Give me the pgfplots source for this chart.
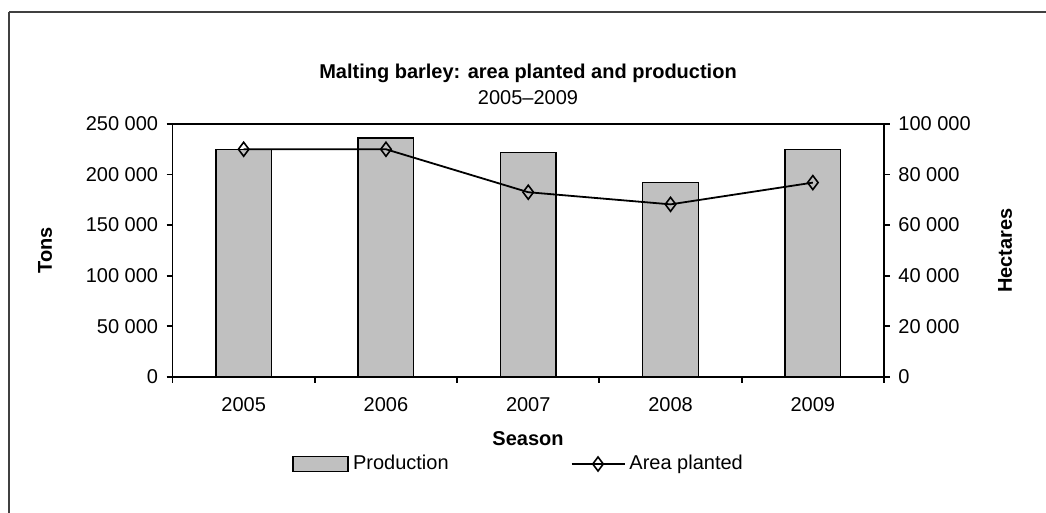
\documentclass[border=0pt]{standalone}
\usepackage{fontspec}
\setmainfont{Liberation Sans}
\usepackage{pgfplots}
\pgfplotsset{compat=1.18}
\definecolor{barg}{RGB}{192,192,192}
\pgfplotsset{
  barlegend/.style={legend image code/.code={\draw[fill=barg, draw=black, line width=0.8pt] (0pt,-3.75pt) rectangle (27.5pt,3.75pt);}},
  linelegend/.style={legend image code/.code={\draw[mark repeat=2,mark phase=2,##1] plot coordinates {(0pt,0pt) (13.25pt,0pt) (26.5pt,0pt)};}},
}
\begin{document}
\fontsize{10}{12}\selectfont
\begin{tikzpicture}[x=1pt,y=1pt]
% bounding box: 1046x513 px at 0.5pt/px
\useasboundingbox (0,0) rectangle (523,256.5);
% chart-area frame (top and left edges visible)
\draw[line width=1.2pt, black!75] (4.5,250.5) -- (523,250.5);
\draw[line width=1.2pt, black!75] (4.5,250.5) -- (4.5,0);
\begin{axis}[
  at={(86.25pt,68.15pt)}, anchor=south west,
  scale only axis, width=355.75pt, height=126.35pt,
  xmin=-0.5, xmax=4.5, ymin=0, ymax=250000,
  axis line style={line width=0.9pt},
  tick align=outside, tick pos=left,
  xtick={0,1,2,3,4},
  xticklabels={2005,2006,2007,2008,2009},
  major x tick style={draw=none},
  minor xtick={-0.5,0.5,1.5,2.5,3.5,4.5},
  minor x tick style={line width=0.9pt, black},
  minor tick length=3pt,
  major tick length=3pt,
  ytick={0,50000,100000,150000,200000,250000},
  yticklabels={0,50 000,100 000,150 000,200 000,250 000},
  y tick style={line width=0.9pt, black},
  xticklabel style={anchor=north, inner sep=0pt, yshift=-7pt},
  yticklabel style={anchor=east, inner sep=0pt, xshift=-4pt},
  scaled y ticks=false,
]
\addplot[ybar, bar width=27.8pt, fill=barg, draw=black, line width=0.7pt]
  coordinates {(0,225000) (1,236000) (2,222000) (3,192000) (4,225000)};
\end{axis}
\begin{axis}[
  at={(86.25pt,68.15pt)}, anchor=south west,
  scale only axis, width=355.75pt, height=126.35pt,
  xmin=-0.5, xmax=4.5, ymin=0, ymax=100000,
  axis x line=none, axis y line*=right,
  axis line style={line width=0.9pt},
  tick align=outside,
  ytick={0,20000,40000,60000,80000,100000},
  yticklabels={0,20 000,40 000,60 000,80 000,100 000},
  scaled y ticks=false,
  y tick style={line width=0.9pt, black},
  major tick length=3pt,
  yticklabel style={anchor=west, inner sep=0pt, xshift=4pt},
  legend columns=2,
  legend style={at={(0.168,-0.3455)}, anchor=west, draw=none, fill=none,
    inner sep=0pt, font=\fontsize{10}{12}\selectfont,
    /tikz/every even column/.append style={column sep=59pt}},
  legend cell align=left,
]
\addlegendimage{barlegend}
\addlegendentry{Production}
\addplot[black, line width=0.9pt, mark=diamond, mark size=3.5pt,
  mark options={fill=white, line width=0.8pt}, linelegend]
  coordinates {(0,90000) (1,90000) (2,73000) (3,68200) (4,76800)};
\addlegendentry{Area planted}
\end{axis}
% titles and axis labels
\node[font=\bfseries] at (264,220) {Malting barley: area planted and production};
\node at (264,207.5) {2005--2009};
\node[font=\bfseries] at (264,37) {Season};
\node[font=\bfseries, rotate=90] at (22.5,131.2) {Tons};
\node[font=\bfseries, rotate=90] at (502.5,131.2) {Hectares};
\end{tikzpicture}
\end{document}
